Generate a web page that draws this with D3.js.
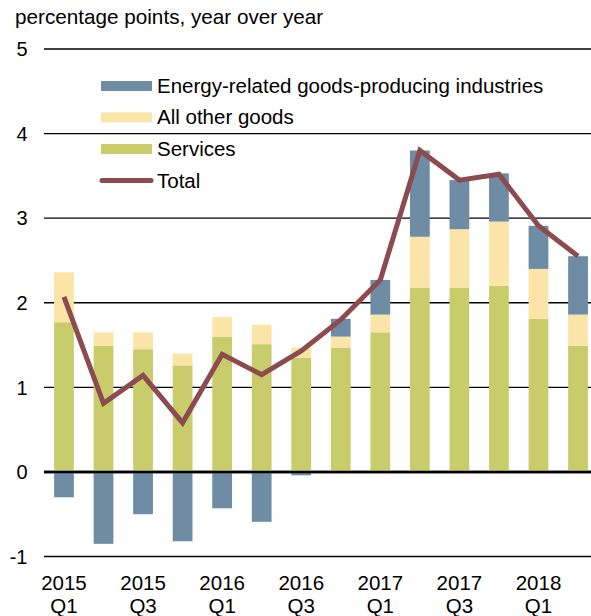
<!DOCTYPE html>
<html>
<head>
<meta charset="utf-8">
<script src="https://cdn.jsdelivr.net/npm/d3@7"></script>
<style>
  body { margin: 0; background: #fff; }
  text { font-family: "Liberation Sans", Arial, sans-serif; fill: #000; }
</style>
</head>
<body>
<div id="chart"></div>
<script>
// quarters, 2015Q1 .. 2018Q2
const quarters = ["2015Q1", "2015Q2", "2015Q3", "2015Q4", "2016Q1", "2016Q2", "2016Q3",
  "2016Q4", "2017Q1", "2017Q2", "2017Q3", "2017Q4", "2018Q1", "2018Q2"];
const services = [1.77, 1.49, 1.45, 1.26, 1.60, 1.51, 1.35, 1.47, 1.65, 2.18, 2.18, 2.20, 1.81, 1.49];
const otherGoods = [0.59, 0.16, 0.20, 0.14, 0.23, 0.23, 0.12, 0.13, 0.21, 0.60, 0.69, 0.76, 0.59, 0.37];
const energy = [-0.30, -0.85, -0.50, -0.82, -0.43, -0.59, -0.04, 0.21, 0.41, 1.02, 0.58, 0.57, 0.51, 0.69];
const total = [2.07, 0.81, 1.14, 0.58, 1.39, 1.15, 1.43, 1.80, 2.27, 3.80, 3.45, 3.52, 2.91, 2.55];
const xTickLabels = { "2015Q1": ["2015", "Q1"], "2015Q3": ["2015", "Q3"], "2016Q1": ["2016", "Q1"],
  "2016Q3": ["2016", "Q3"], "2017Q1": ["2017", "Q1"], "2017Q3": ["2017", "Q3"], "2018Q1": ["2018", "Q1"] };
const yTicks = [-1, 0, 1, 2, 3, 4, 5];

const colors = { energy: "#6e8ca4", other: "#fae4a7", services: "#c9cc6b", total: "#8b4b4f" };

const width = 591, height = 616;
const svg = d3.select("#chart").append("svg").attr("width", width).attr("height", height);

const y = d3.scaleLinear().domain([-1, 5]).range([556.5, 49]);
const x = d3.scaleBand().domain(quarters).range([44.2, 597.8]).paddingInner(0.5).paddingOuter(0.25);

// title
svg.append("text").attr("x", 15).attr("y", 24).attr("font-size", 20.7)
  .text("percentage points, year over year");

// gridlines + y labels
yTicks.forEach(t => {
  svg.append("line")
    .attr("x1", 44).attr("x2", width)
    .attr("y1", y(t)).attr("y2", y(t))
    .attr("stroke", "#000").attr("stroke-width", t === 0 ? 2.5 : 1.3);
  svg.append("text").attr("x", 27.5).attr("y", y(t) + 7.3)
    .attr("text-anchor", "end").attr("font-size", 20).text(t);
});

// stacked bars (positive and negative stacked separately)
const bw = x.bandwidth();
quarters.forEach((q, i) => {
  let pos = 0, neg = 0;
  [["services", services[i]], ["other", otherGoods[i]], ["energy", energy[i]]].forEach(([k, v]) => {
    let y0, y1;
    if (v >= 0) { y0 = pos; y1 = pos + v; pos = y1; }
    else { y0 = neg; y1 = neg + v; neg = y1; }
    svg.append("rect")
      .attr("x", x(q)).attr("width", bw)
      .attr("y", y(Math.max(y0, y1)))
      .attr("height", Math.abs(y(y0) - y(y1)))
      .attr("fill", colors[k]);
  });
});

// redraw zero line above bars
svg.append("line").attr("x1", 44).attr("x2", width)
  .attr("y1", y(0)).attr("y2", y(0)).attr("stroke", "#000").attr("stroke-width", 2.5);

// total line
const line = d3.line().x((d, i) => x(quarters[i]) + bw / 2).y(d => y(d));
svg.append("path").attr("d", line(total))
  .attr("fill", "none").attr("stroke", colors.total).attr("stroke-width", 5)
  .attr("stroke-linejoin", "miter");

// x axis labels
quarters.forEach(q => {
  const lab = xTickLabels[q];
  if (!lab) return;
  const cx = x(q) + bw / 2;
  svg.append("text").attr("x", cx).attr("y", 590).attr("text-anchor", "middle")
    .attr("font-size", 20.5).text(lab[0]);
  svg.append("text").attr("x", cx).attr("y", 613).attr("text-anchor", "middle")
    .attr("font-size", 20.5).text(lab[1]);
});

// legend
const legendItems = [
  { label: "Energy-related goods-producing industries", color: colors.energy, type: "rect" },
  { label: "All other goods", color: colors.other, type: "rect" },
  { label: "Services", color: colors.services, type: "rect" },
  { label: "Total", color: colors.total, type: "line" }
];
const legendY = [86, 117.3, 149, 180.5];
legendItems.forEach((d, i) => {
  const ly = legendY[i];
  if (d.type === "rect") {
    svg.append("rect").attr("x", 101).attr("y", ly - 5).attr("width", 51).attr("height", 10)
      .attr("fill", d.color);
  } else {
    svg.append("line").attr("x1", 102).attr("x2", 151).attr("y1", ly).attr("y2", ly)
      .attr("stroke", d.color).attr("stroke-width", 5).attr("stroke-linecap", "round");
  }
  svg.append("text").attr("x", 157).attr("y", ly + 7).attr("font-size", 20.5).text(d.label);
});
</script>
</body>
</html>
